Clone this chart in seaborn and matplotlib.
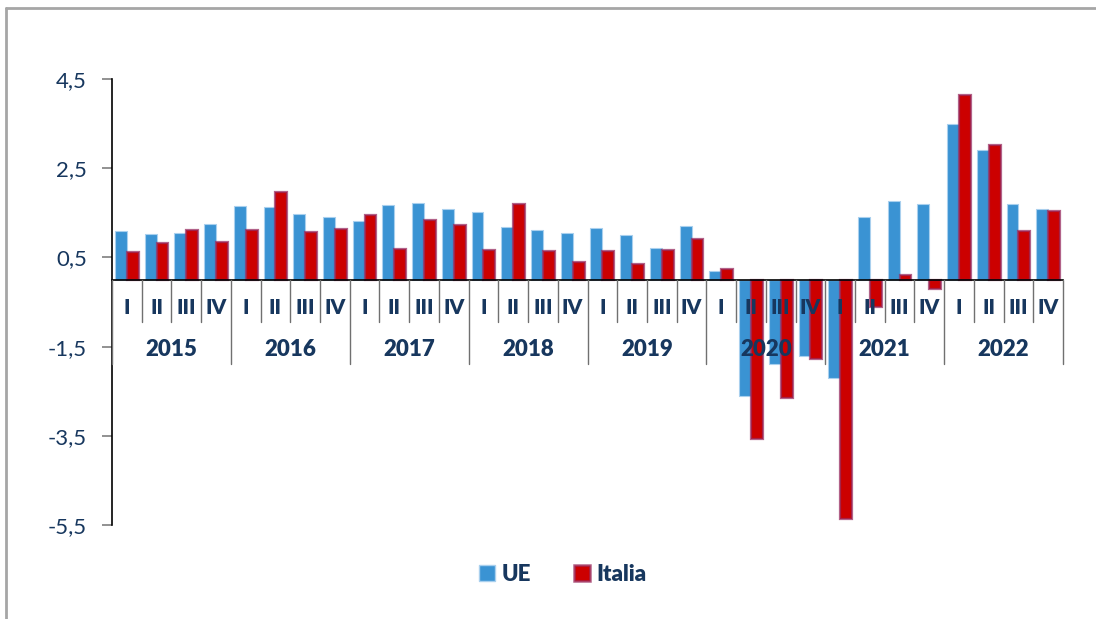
"""Quarterly GDP change, UE vs Italia, 2015-2022."""

import matplotlib.pyplot as plt
from matplotlib.lines import Line2D
import numpy as np
import pandas as pd
import seaborn as sns

sns.set_style("white")
plt.rcParams["font.family"] = ["Lato", "DejaVu Sans"]

# ---- data ------------------------------------------------------------------
years = ["2015", "2016", "2017", "2018", "2019", "2020", "2021", "2022"]
quarters = ["I", "II", "III", "IV"]

ue = [1.10, 1.02, 1.05, 1.25,
      1.65, 1.63, 1.47, 1.40,
      1.31, 1.68, 1.71, 1.59,
      1.52, 1.19, 1.11, 1.05,
      1.17, 1.01, 0.71, 1.21,
      0.20, -2.61, -1.90, -1.71,
      -2.20, 1.41, 1.76, 1.69,
      3.49, 2.91, 1.69, 1.58]
italia = [0.62, 0.83, 1.11, 0.84,
          1.11, 1.96, 1.07, 1.14,
          1.46, 0.68, 1.33, 1.23,
          0.66, 1.69, 0.65, 0.39,
          0.65, 0.35, 0.66, 0.91,
          0.24, -3.58, -2.65, -1.78,
          -5.36, -0.62, 0.10, -0.21,
          4.15, 3.01, 1.09, 1.55]

series = ["UE", "Italia"]
yticks = [4.5, 2.5, 0.5, -1.5, -3.5, -5.5]

TEXT = "#17375E"
BLUE = "#3A93D3"
RED = "#CC0000"
RED_EDGE = (0.60, 0.18, 0.38, 0.75)

periods = [f"{y}-{q}" for y in years for q in quarters]
df = pd.DataFrame({
    "period": periods * 2,
    "serie": ["UE"] * len(ue) + ["Italia"] * len(italia),
    "valore": ue + italia,
})

fig = plt.figure(figsize=(10.96, 6.19), dpi=100)
ax = fig.add_axes([112 / 1096, 1 - 525 / 619, 951 / 1096, 446 / 619])

sns.barplot(data=df, x="period", y="valore", hue="serie", hue_order=series,
            order=periods, palette=[BLUE, RED], saturation=1, width=0.8,
            ax=ax, zorder=2)

# bar edges like the original
for p in ax.containers[0]:
    p.set_edgecolor("#A9D0EE")
    p.set_linewidth(0.8)
for p in ax.containers[1]:
    p.set_edgecolor(RED_EDGE)
    p.set_linewidth(1.6)

ax.set_ylim(-5.5, 4.5)
ax.set_xlim(-0.5, len(periods) - 0.5)
ax.set_yticks(yticks)
ax.set_yticklabels([f"{v:.1f}".replace(".", ",") for v in yticks],
                   fontsize=16, color=TEXT)
ax.yaxis.set_ticks_position("left")
ax.tick_params(axis="y", which="major", left=True, direction="out", length=7,
               width=1.2, color="#7F7F7F", pad=11)
ax.set_xticks([])
ax.set_xlabel("")
ax.set_ylabel("")

for s in ["top", "right"]:
    ax.spines[s].set_visible(False)
ax.spines["left"].set_color("black")
ax.spines["left"].set_linewidth(1.2)
ax.spines["bottom"].set_position(("data", 0))
ax.spines["bottom"].set_color("black")
ax.spines["bottom"].set_linewidth(1.2)

# category labels and dividers (drawn over the bars, like the original)
q_low = -0.95
y_low = -1.90
for i, per in enumerate(periods):
    q = per.split("-")[1]
    ax.text(i, -0.62, q, ha="center", va="center", fontsize=15,
            fontweight="heavy", color=TEXT, zorder=5)
    if i % 4 != 0:
        ax.plot([i - 0.5, i - 0.5], [0, q_low], color="#707070", lw=1,
                zorder=4, clip_on=False)
for j, y in enumerate(years):
    ax.text(j * 4 + 1.5, -1.56, y, ha="center", va="center", fontsize=16,
            fontweight="heavy", color=TEXT, zorder=5)
for j in range(len(years) + 1):
    x = j * 4 - 0.5
    ax.plot([x, x], [0, y_low], color="#707070", lw=1, zorder=4, clip_on=False)

# legend below the plot
handles = [
    plt.Rectangle((0, 0), 1, 1, facecolor=BLUE, edgecolor="#A9D0EE"),
    plt.Rectangle((0, 0), 1, 1, facecolor=RED, edgecolor=RED_EDGE, lw=1.8),
]
ax.legend(handles, series, loc="center", bbox_to_anchor=(0.474, -0.11), ncol=2,
          frameon=False, handlelength=0.75, handleheight=0.75, handletextpad=0.3,
          columnspacing=1.9, prop={"size": 16, "weight": "heavy"},
          labelcolor=TEXT)

# outer grey frame (left and top edges visible)
fig.add_artist(Line2D([5.5 / 1096, 5.5 / 1096], [0, 1 - 8 / 619], color="#A6A6A6", lw=2))
fig.add_artist(Line2D([5.5 / 1096, 1], [1 - 8 / 619, 1 - 8 / 619], color="#A6A6A6", lw=2))

fig.savefig("out.png", dpi=100)
plt.close(fig)
